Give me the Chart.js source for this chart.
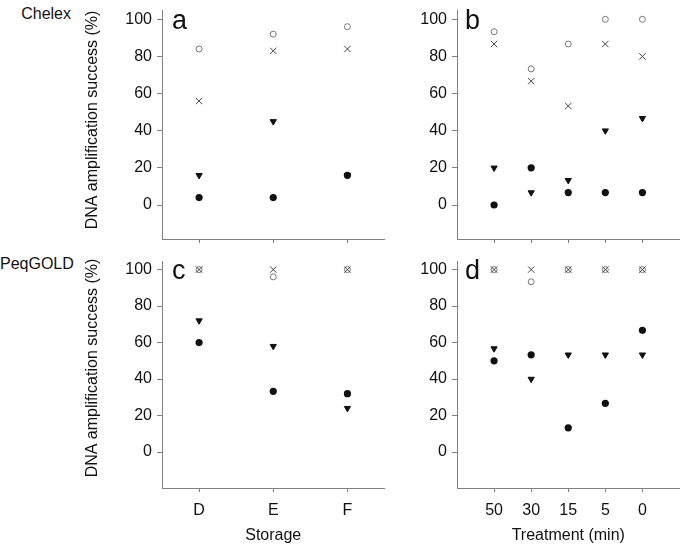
<!DOCTYPE html>
<html>
<head>
<meta charset="utf-8">
<script src="https://cdn.jsdelivr.net/npm/chart.js@4/dist/chart.umd.min.js"></script>
<style>
  html, body { margin: 0; padding: 0; background: #ffffff; }
  body { width: 685px; height: 545px; position: relative; overflow: hidden; font-family: "Liberation Sans", Arial, sans-serif; }
  canvas { position: absolute; }
  .rowlab { position: absolute; left: 0; width: 71px; text-align: right; font-size: 16px; line-height: 18px; color: #111; }
</style>
</head>
<body>
<div class="rowlab" style="top:5px;">Chelex</div>
<div class="rowlab" style="top:255px;">PeqGOLD</div>
<canvas id="pa" style="left:84px; top:0px;" width="306" height="249"></canvas>
<canvas id="pb" style="left:400px; top:0px;" width="285" height="249"></canvas>
<canvas id="pc" style="left:84px; top:250px;" width="306" height="295"></canvas>
<canvas id="pd" style="left:400px; top:250px;" width="285" height="295"></canvas>
<script>
// ---- categories and tick labels ----
const storageCats = ['D', 'E', 'F'];
const treatmentCats = ['50', '30', '15', '5', '0'];
const yTicks = [0, 20, 40, 60, 80, 100];
const yTitle = 'DNA amplification success (%)';
const rowLabels = ['Chelex', 'PeqGOLD'];
const panelLetters = ['a', 'b', 'c', 'd'];
const xTitleStorage = 'Storage';
const xTitleTreatment = 'Treatment (min)';

// ---- Panel a: Chelex, storage ----
const chelexStorageOpen  = [84, 92, 96];
const chelexStorageCross = [56, 83, 84];
const chelexStorageTri   = [16, 45, 16];
const chelexStorageDot   = [4, 4, 16];

// ---- Panel b: Chelex, treatment ----
const chelexTreatOpen  = [93.3, 73.3, 86.7, 100, 100];
const chelexTreatCross = [86.7, 66.7, 53.3, 86.7, 80];
const chelexTreatTri   = [20, 6.7, 13.3, 40, 46.7];
const chelexTreatDot   = [0, 20, 6.7, 6.7, 6.7];

// ---- Panel c: PeqGOLD, storage ----
const peqStorageOpen  = [100, 96, 100];
const peqStorageCross = [100, 100, 100];
const peqStorageTri   = [72, 58, 24];
const peqStorageDot   = [60, 33.3, 32];

// ---- Panel d: PeqGOLD, treatment ----
const peqTreatOpen  = [100, 93.3, 100, 100, 100];
const peqTreatCross = [100, 100, 100, 100, 100];
const peqTreatTri   = [56.7, 40, 53.3, 53.3, 53.3];
const peqTreatDot   = [50, 53.3, 13.3, 26.7, 66.7];

const FONT = '"Liberation Sans", Arial, sans-serif';
const AXIS = '#808080';
const TEXT = '#111111';

function pts(vals) { return vals.map((v, i) => ({ x: i + 1, y: v })); }

function datasets(dot, tri, cross, open) {
  return [
    { label: 'dot', data: pts(dot), pointStyle: 'circle', pointRadius: 3.6, backgroundColor: '#111', borderColor: '#111', borderWidth: 0 },
    { label: 'tri', data: pts(tri), pointStyle: 'triangle', rotation: 180, pointRadius: 3.6, backgroundColor: '#111', borderColor: '#111', borderWidth: 1 },
    { label: 'cross', data: pts(cross), pointStyle: 'crossRot', pointRadius: 4.5, backgroundColor: '#444', borderColor: '#444', borderWidth: 1 },
    { label: 'open', data: pts(open), pointStyle: 'circle', pointRadius: 3, backgroundColor: 'rgba(0,0,0,0)', borderColor: '#777', borderWidth: 1 }
  ];
}

function makePanel(id, cfg) {
  const textPlugin = {
    id: 'panelText',
    afterDraw(chart) {
      const ctx = chart.ctx;
      ctx.save();
      ctx.fillStyle = TEXT;
      ctx.font = '27px ' + FONT;
      ctx.textAlign = 'left';
      ctx.textBaseline = 'alphabetic';
      ctx.fillText(cfg.letter, cfg.letterX, cfg.letterY);
      if (cfg.showYTitle) {
        ctx.font = '16px ' + FONT;
        ctx.textAlign = 'center';
        ctx.textBaseline = 'middle';
        ctx.translate(cfg.yTitleX, cfg.yTitleY);
        ctx.rotate(-Math.PI / 2);
        ctx.fillText(yTitle, 0, 0);
      }
      ctx.restore();
    }
  };
  return new Chart(document.getElementById(id), {
    type: 'scatter',
    data: { datasets: datasets(cfg.dot, cfg.tri, cfg.cross, cfg.open) },
    options: {
      responsive: false,
      animation: false,
      events: [],
      layout: { padding: { top: cfg.padTop, left: 0, right: 0, bottom: 0 } },
      plugins: { legend: { display: false }, tooltip: { enabled: false } },
      scales: {
        x: {
          type: 'linear',
          min: cfg.xMin, max: cfg.xMax,
          afterBuildTicks: s => { s.ticks = cfg.cats.map((c, i) => ({ value: i + 1 })); },
          afterFit: s => { s.height = cfg.xHeight; s.paddingLeft = 0; s.paddingRight = 0; },
          grid: { display: true, drawOnChartArea: false, drawTicks: true, tickLength: 4, color: AXIS, lineWidth: 1 },
          border: { display: true, color: AXIS, width: 1 },
          ticks: {
            display: cfg.showXLabels, autoSkip: false, maxRotation: 0, minRotation: 0, padding: 9,
            color: TEXT, font: { family: FONT, size: 16 },
            callback: v => cfg.cats[Math.round(v) - 1] ?? ''
          },
          title: { display: cfg.showXLabels, text: cfg.xTitle, color: TEXT, font: { family: FONT, size: 16 }, padding: { top: 0, bottom: 0 } }
        },
        y: {
          min: cfg.yMin, max: cfg.yMax,
          afterBuildTicks: s => { s.ticks = yTicks.map(v => ({ value: v })); },
          afterFit: s => { s.width = cfg.yWidth; s.paddingTop = 0; s.paddingBottom = 0; },
          grid: { display: true, drawOnChartArea: false, drawTicks: true, tickLength: 5, color: AXIS, lineWidth: 1 },
          border: { display: true, color: AXIS, width: 1 },
          ticks: { padding: 5, color: TEXT, font: { family: FONT, size: 16 } }
        }
      }
    },
    plugins: [textPlugin]
  });
}

makePanel('pa', { cats: storageCats, xMin: 0.5, xMax: 3.5, yMin: -18.3, yMax: 105,
  dot: chelexStorageDot, tri: chelexStorageTri, cross: chelexStorageCross, open: chelexStorageOpen,
  padTop: 10, xHeight: 10, yWidth: 78, showXLabels: false, xTitle: xTitleStorage,
  letter: panelLetters[0], letterX: 88, letterY: 29, showYTitle: true, yTitleX: 9, yTitleY: 120 });

makePanel('pb', { cats: treatmentCats, xMin: 0, xMax: 6, yMin: -18.3, yMax: 105,
  dot: chelexTreatDot, tri: chelexTreatTri, cross: chelexTreatCross, open: chelexTreatOpen,
  padTop: 10, xHeight: 10, yWidth: 57, showXLabels: false, xTitle: xTitleTreatment,
  letter: panelLetters[1], letterX: 65, letterY: 29, showYTitle: false });

makePanel('pc', { cats: storageCats, xMin: 0.5, xMax: 3.5, yMin: -19.7, yMax: 104.7,
  dot: peqStorageDot, tri: peqStorageTri, cross: peqStorageCross, open: peqStorageOpen,
  padTop: 11, xHeight: 57, yWidth: 78, showXLabels: true, xTitle: xTitleStorage,
  letter: panelLetters[2], letterX: 88, letterY: 29, showYTitle: true, yTitleX: 9, yTitleY: 118 });

makePanel('pd', { cats: treatmentCats, xMin: 0, xMax: 6, yMin: -19.7, yMax: 104.7,
  dot: peqTreatDot, tri: peqTreatTri, cross: peqTreatCross, open: peqTreatOpen,
  padTop: 11, xHeight: 57, yWidth: 57, showXLabels: true, xTitle: xTitleTreatment,
  letter: panelLetters[3], letterX: 65, letterY: 29, showYTitle: false });
</script>
</body>
</html>
